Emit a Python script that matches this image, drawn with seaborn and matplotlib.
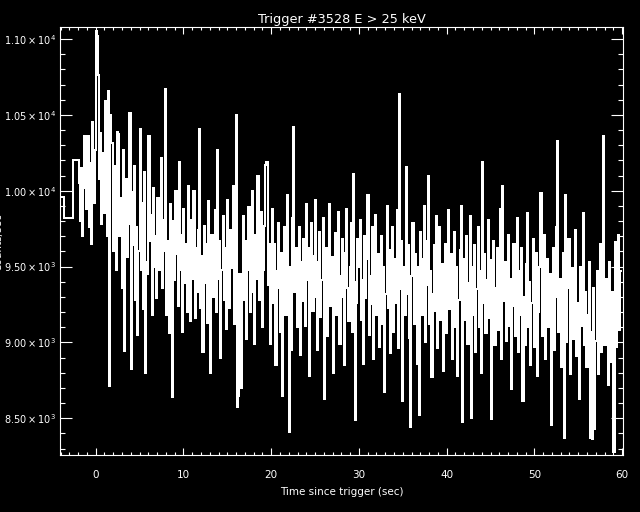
import numpy as np
import pandas as pd
import seaborn as sns
import matplotlib.pyplot as plt
from matplotlib.ticker import MultipleLocator, FuncFormatter

# pre-trigger bins (wide), start times and counts
pre_t = [-4.07, -3.61, -2.55]
pre_counts = [9960, 9820, 10200]

# fine resolution data: starts at t0, bin width dt
t0 = -1.92
dt = 0.128
counts = [
    10050, 9800, 10150, 9700, 10020, 10360, 9880, 10340, 10360, 9760,
    10180, 9650, 10456, 9920, 10270, 11050, 11020, 10760, 10080, 10380,
    9780, 10250, 9850, 10590, 10020, 9700, 10660, 8710, 10500, 10316,
    9600, 10160, 9840, 9480, 10390, 10375, 9700, 9950, 9360, 10270,
    8943, 9920, 10080, 9560, 9780, 10513, 8822, 9990, 9640, 10160,
    9280, 9760, 9048, 9600, 10408, 9480, 9920, 9220, 10120, 8800,
    9530, 9450, 10360, 9670, 9840, 9180, 10020, 9500, 9700, 9290,
    9950, 9480, 9730, 10217, 9360, 9810, 9600, 10671, 9180, 9670,
    9060, 9910, 9550, 8640, 9800, 9410, 10000, 9580, 9240, 10190,
    9480, 9710, 9070, 9880, 9390, 9650, 9200, 10033, 9560, 9140,
    9810, 9420, 10000, 9160, 9620, 9330, 9740, 10408, 9230, 9570,
    8940, 9770, 9390, 9650, 9130, 9930, 9450, 8800, 9710, 9300,
    9540, 9870, 9200, 10270, 9420, 9670, 8900, 9480, 9830, 9280,
    9620, 9090, 9940, 9380, 9230, 9740, 9490, 10030, 9120, 9600,
    10500, 8572, 8645, 9450, 8700, 9380, 9830, 9280, 9670, 9020,
    9480, 9890, 9200, 9600, 10000, 9330, 8990, 9710, 9420, 10100,
    9280, 9570, 9860, 9100, 9480, 9770, 10170, 10190, 9380, 9650,
    8990, 9560, 9880, 9260, 9650, 8850, 9470, 9790, 9360, 9070,
    9590, 8645, 9390, 9760, 9180, 9970, 9300, 8408, 9500, 8950,
    9820, 10421, 9330, 9620, 9100, 9440, 9760, 8920, 9530, 9270,
    9680, 9110, 9910, 9410, 9620, 8780, 9470, 9790, 9210, 9570,
    9940, 9300, 8950, 9530, 9730, 9170, 9410, 9820, 8625, 9330,
    9620, 9040, 9470, 9910, 9240, 9560, 8800, 9400, 9720, 9180,
    9530, 9860, 8990, 9440, 9680, 9300, 8850, 9590, 9880, 9360,
    9140, 9500, 9790, 9070, 10112, 9400, 8487, 9260, 9680, 9500,
    9810, 9150, 9410, 8860, 9700, 9290, 9550, 9970, 9050, 9440,
    9250, 9760, 8890, 9380, 9840, 9180, 9580, 8970, 9420, 9700,
    9120, 9500, 8670, 9320, 9900, 9230, 9610, 8930, 9410, 9760,
    9070, 9550, 9260, 9870, 8960, 10638, 9350, 9670, 8612, 9500,
    9180, 10158, 9320, 9640, 9030, 8440, 9440, 9790, 9120, 9580,
    9290, 8860, 9500, 8520, 9730, 9180, 9550, 9900, 9000, 9380,
    9670, 10099, 9120, 9470, 8770, 9320, 9640, 9210, 9830, 8960,
    9410, 9760, 9150, 9520, 8810, 9350, 9650, 9060, 9470, 9870,
    9220, 9580, 8890, 9380, 9730, 9100, 9500, 8780, 9280, 9610,
    9900, 8474, 9320, 9550, 9150, 9700, 8990, 9390, 9830, 8500,
    9500, 9180, 9640, 8940, 9350, 9760, 9100, 9470, 8800, 10190,
    9260, 9580, 9060, 9410, 9810, 9160, 9540, 8493, 9220, 9670,
    8980, 9360, 9620, 9080, 9450, 9880, 8890, 10033, 9270, 9530,
    9010, 9360, 9710, 9110, 9420, 8690, 9240, 9650, 9040, 9370,
    9820, 8940, 9470, 9180, 9620, 8612, 9300, 8980, 9520, 9850,
    9100, 9400, 8850, 9260, 9680, 8970, 9330, 9590, 8780, 9200,
    9500, 9987, 9040, 9360, 9710, 8890, 9240, 9550, 9100, 9450,
    8454, 9160, 9620, 8950, 9300, 9760, 10329, 9070, 9420, 8840,
    9210, 9590, 8368, 9974, 9000, 9360, 9680, 8790, 9140, 9490,
    9020, 9390, 9740, 8910, 9260, 8630, 9500, 9110, 9420, 9850,
    8980, 9330, 8840, 9180, 9530, 8368, 9070, 8362, 9360, 8428,
    9010, 9470, 8790, 9200, 9650, 8940, 9300, 10362, 8980, 9420,
    9100, 8720, 9530, 9170, 8870, 9330, 8276, 9660, 8970, 9270,
    9710, 9080, 9470,
]

title = "Trigger #3528 E > 25 keV"
xlabel = "Time since trigger (sec)"
ylabel = "Counts/sec"

# build one table of step starts
fine_t = t0 + dt * np.arange(len(counts))
t_all = np.concatenate([pre_t, fine_t, [fine_t[-1] + dt]])
c_all = np.concatenate([pre_counts, counts, [counts[-1]]])
df = pd.DataFrame({"t": t_all, "counts": c_all})

sns.set_theme(style="dark", rc={
    "figure.facecolor": "black",
    "axes.facecolor": "black",
    "axes.edgecolor": "white",
    "axes.labelcolor": "white",
    "text.color": "white",
    "xtick.color": "white",
    "ytick.color": "white",
    "axes.grid": False,
})
plt.rcParams["font.family"] = ["DejaVu Sans"]

fig = plt.figure(figsize=(6.4, 5.12), dpi=100)
ax = fig.add_axes([60 / 640, 57 / 512, 563 / 640, 428 / 512])

sns.lineplot(data=df, x="t", y="counts", ax=ax, color="white",
             linewidth=1.1, drawstyle="steps-post", sort=False,
             estimator=None, antialiased=False)

ax.set_xlim(-4.07, 60.1)
ax.set_ylim(8258, 11079)

ax.xaxis.set_major_locator(MultipleLocator(10))
ax.xaxis.set_minor_locator(MultipleLocator(1))
ax.yaxis.set_major_locator(MultipleLocator(500))
ax.yaxis.set_minor_locator(MultipleLocator(100))


def sci(v, pos):
    e = int(np.floor(np.log10(v)))
    return r"$\mathregular{%.2f\times10^{%d}}$" % (v / 10 ** e, e)


ax.yaxis.set_major_formatter(FuncFormatter(sci))
ax.tick_params(axis="x", which="major", direction="in", length=5, width=0.8,
               top=True, bottom=True, labelsize=7.5, pad=11)
ax.tick_params(axis="x", which="minor", direction="in", length=2.5, width=0.8,
               top=True, bottom=True)
ax.tick_params(axis="y", which="major", direction="in", length=8.5, width=0.8,
               left=True, right=True, labelsize=7, pad=3)
ax.tick_params(axis="y", which="minor", direction="in", length=3.8, width=0.8,
               left=True, right=True)
for s in ax.spines.values():
    s.set_color("white")
    s.set_linewidth(0.8)

ax.set_xlabel(xlabel, fontsize=7.5, labelpad=5)
ax.set_ylabel("")
ax.set_title(title, fontsize=9.3, pad=3)
fig.text(3 / 640, 0.527, ylabel, rotation=90, ha="right", va="center",
         fontsize=7.5, color="white")

fig.savefig("out.png", dpi=100, facecolor="black")
